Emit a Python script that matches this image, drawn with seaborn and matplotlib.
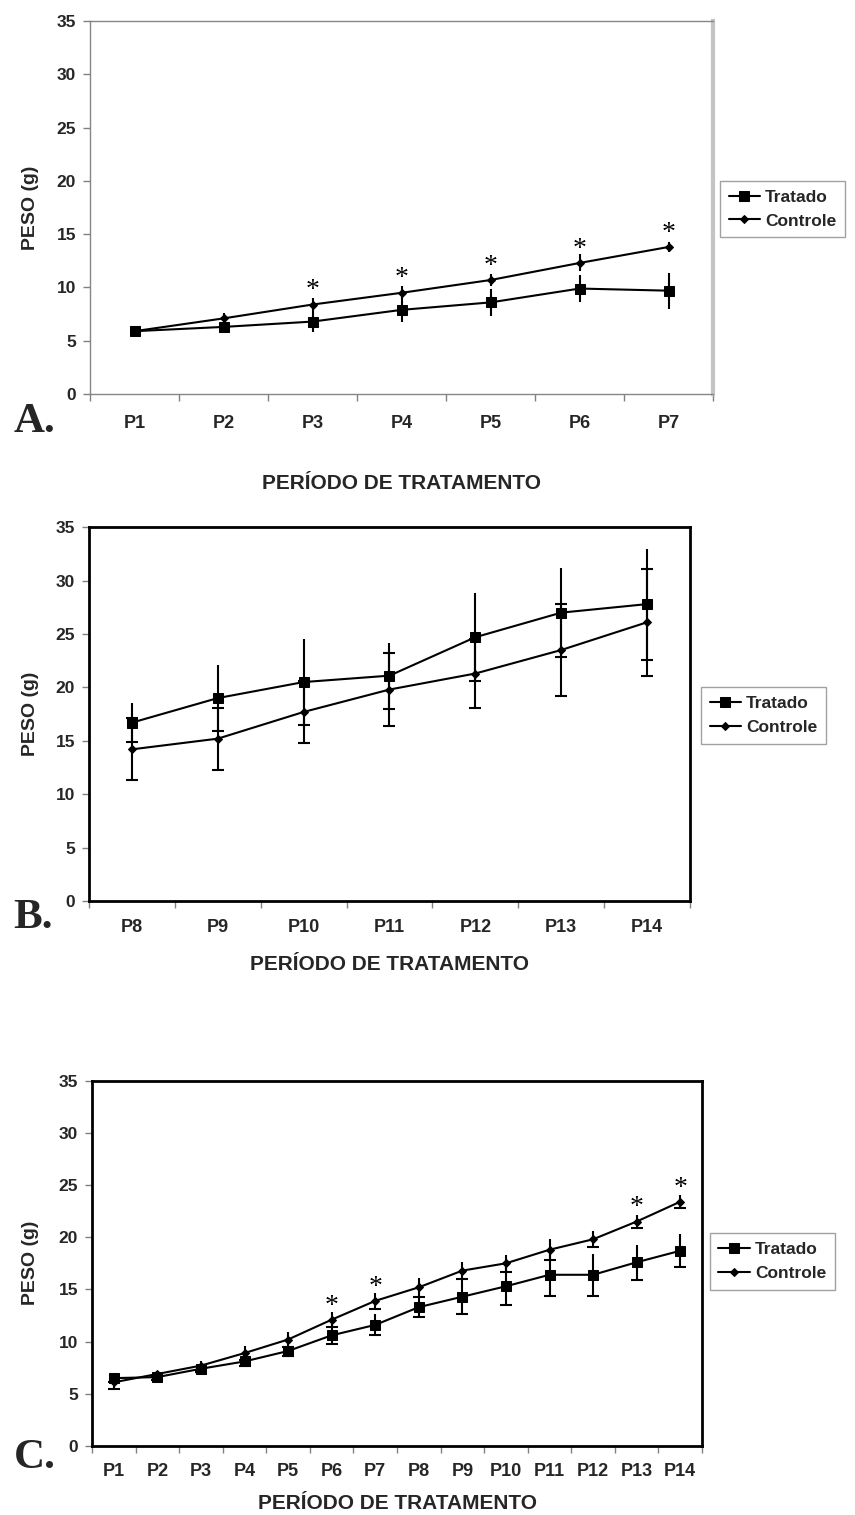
import numpy as np
import pandas as pd
import matplotlib
matplotlib.use("Agg")
import matplotlib.pyplot as plt
import seaborn as sns

# ---- data (peso em gramas, media +/- erro) ----
periods_a = ["P1", "P2", "P3", "P4", "P5", "P6", "P7"]
tratado_a = [5.9, 6.3, 6.8, 7.9, 8.6, 9.9, 9.7]
tratado_a_err = [0.2, 0.4, 1.0, 1.1, 1.3, 1.3, 1.7]
controle_a = [5.9, 7.1, 8.4, 9.5, 10.7, 12.3, 13.8]
controle_a_err = [0.3, 0.5, 0.6, 0.6, 0.6, 0.8, 0.5]
sig_a = ["P3", "P4", "P5", "P6", "P7"]

periods_b = ["P8", "P9", "P10", "P11", "P12", "P13", "P14"]
tratado_b = [16.7, 19.0, 20.5, 21.1, 24.7, 27.0, 27.8]
tratado_b_err = [1.8, 3.1, 4.0, 3.1, 4.1, 4.2, 5.2]
controle_b = [14.2, 15.2, 17.7, 19.8, 21.3, 23.5, 26.1]
controle_b_err = [2.9, 2.9, 2.9, 3.4, 3.2, 4.3, 5.0]
sig_b = []

periods_c = ["P1", "P2", "P3", "P4", "P5", "P6", "P7",
             "P8", "P9", "P10", "P11", "P12", "P13", "P14"]
tratado_c = [6.5, 6.6, 7.4, 8.1, 9.1, 10.6, 11.6, 13.3, 14.3, 15.3, 16.4, 16.4, 17.6, 18.7]
tratado_c_err = [0.4, 0.3, 0.3, 0.45, 0.45, 0.8, 1.0, 0.95, 1.7, 1.8, 2.0, 2.0, 1.7, 1.6]
controle_c = [6.1, 6.9, 7.7, 8.9, 10.2, 12.1, 13.9, 15.2, 16.8, 17.5, 18.8, 19.8, 21.5, 23.4]
controle_c_err = [0.6, 0.3, 0.4, 0.7, 0.7, 0.7, 0.8, 0.9, 0.8, 0.8, 1.0, 0.75, 0.65, 0.65]
sig_c = ["P6", "P7", "P13", "P14"]

yticks = [0, 5, 10, 15, 20, 25, 30, 35]

sns.set_theme(style="white")
plt.rcParams["font.family"] = ["Liberation Sans", "DejaVu Sans"]
plt.rcParams["font.weight"] = "bold"


def draw_errors(ax, x, y, err, cap_low, cap_high):
    """Vertical error bars, caps only where the original shows them."""
    y = np.asarray(y)
    err = np.asarray(err)
    ax.errorbar(x, y, yerr=err, fmt="none", ecolor="black",
                elinewidth=1.5, capsize=0, zorder=2)
    if cap_low:
        ax.plot(x, y - err, ls="none", marker="_", ms=9, mew=1.5,
                color="black", zorder=2)
    if cap_high:
        ax.plot(x, y + err, ls="none", marker="_", ms=9, mew=1.5,
                color="black", zorder=2)


def draw_panel(fig, rect, periods, trat, trat_err, ctrl, ctrl_err, sig,
               letter, letter_y, caps, frame, legend_xy, xpad, xlabel_y, ylabel_x):
    ax = fig.add_axes(rect)
    df = pd.DataFrame({
        "pos": np.arange(len(periods)),
        "periodo": periods,
        "Tratado": trat,
        "Controle": ctrl,
    })

    draw_errors(ax, df["pos"], df["Tratado"], trat_err, *caps[0])
    draw_errors(ax, df["pos"], df["Controle"], ctrl_err, *caps[1])

    sns.lineplot(data=df, x="pos", y="Tratado", ax=ax, color="black",
                 lw=1.5, marker="s", markersize=6.5, markeredgecolor="black",
                 label="Tratado", zorder=3)
    sns.lineplot(data=df, x="pos", y="Controle", ax=ax, color="black",
                 lw=1.5, marker="D", markersize=4.5, markeredgecolor="black",
                 label="Controle", zorder=3)

    # significance marks above the control curve
    for p in sig:
        i = periods.index(p)
        ax.text(df["pos"][i], ctrl[i] + 1.3, "*", ha="center", va="center",
                fontsize=20, family="Liberation Serif", fontweight="normal",
                color="black")

    n = len(periods)
    ax.set_xlim(-0.5, n - 0.5)
    ax.set_ylim(0, 35)
    ax.set_yticks(yticks)
    ax.set_xticks(df["pos"])
    ax.set_xticklabels(periods)
    ax.set_xticks(np.arange(n + 1) - 0.5, minor=True)
    ax.tick_params(axis="x", which="major", length=0, pad=xpad, labelsize=13)
    ax.tick_params(axis="x", which="minor", length=5, width=1, color="#808080",
                   direction="out", bottom=True)
    ax.tick_params(axis="y", length=5, width=1, color="#808080", direction="out",
                   left=True, pad=5, labelsize=12.5)

    if frame == "grey":
        for s in ["left", "bottom", "top"]:
            ax.spines[s].set_color("#858585")
            ax.spines[s].set_linewidth(1.0)
        ax.spines["right"].set_color("#c4c4c4")
        ax.spines["right"].set_linewidth(3)
    else:
        for s in ax.spines.values():
            s.set_color("black")
            s.set_linewidth(2)

    ax.set_xlabel("PERÍODO DE TRATAMENTO", fontsize=15, fontweight="bold")
    ax.set_ylabel("PESO (g)", fontsize=14, fontweight="bold")
    ax.xaxis.set_label_coords(0.5, xlabel_y)
    ax.xaxis.label.set_va("center")
    ax.yaxis.set_label_coords(ylabel_x, 0.5)
    ax.yaxis.label.set_va("center")

    leg = ax.legend(loc="center left", bbox_to_anchor=legend_xy,
                    bbox_transform=fig.transFigure, frameon=True, fancybox=False,
                    edgecolor="#8a8a8a", handlelength=1.8, borderaxespad=0,
                    handletextpad=0.3, borderpad=0.5, labelspacing=0.5,
                    prop={"weight": "bold", "size": 12.5})
    leg.get_frame().set_linewidth(1.0)

    fig.text(0.016, letter_y, letter, fontsize=31, fontweight="bold",
             family="Liberation Serif", va="baseline", ha="left")
    return ax


fig = plt.figure(figsize=(8.55, 15.15), dpi=100)
fig.patch.set_facecolor("white")

draw_panel(fig, [0.1053, 0.7399, 0.7287, 0.2462], periods_a,
           tratado_a, tratado_a_err, controle_a, controle_a_err, sig_a,
           "A.", 1 - 432 / 1515, ((False, False), (False, False)), "grey",
           (0.842, 0.862), 15, -0.239, -0.096)

draw_panel(fig, [0.1041, 0.4053, 0.7029, 0.2467], periods_b,
           tratado_b, tratado_b_err, controle_b, controle_b_err, sig_b,
           "B.", 1 - 928 / 1515, ((True, False), (True, True)), "black",
           (0.820, 0.5277), 13, -0.171, -0.098)

draw_panel(fig, [0.1076, 0.04554, 0.7135, 0.2412], periods_c,
           tratado_c, tratado_c_err, controle_c, controle_c_err, sig_c,
           "C.", 1 - 1468 / 1515, ((True, False), (True, False)), "black",
           (0.830, 0.1673), 12, -0.156, -0.1016)

fig.savefig("out.png", dpi=100, facecolor="white")
